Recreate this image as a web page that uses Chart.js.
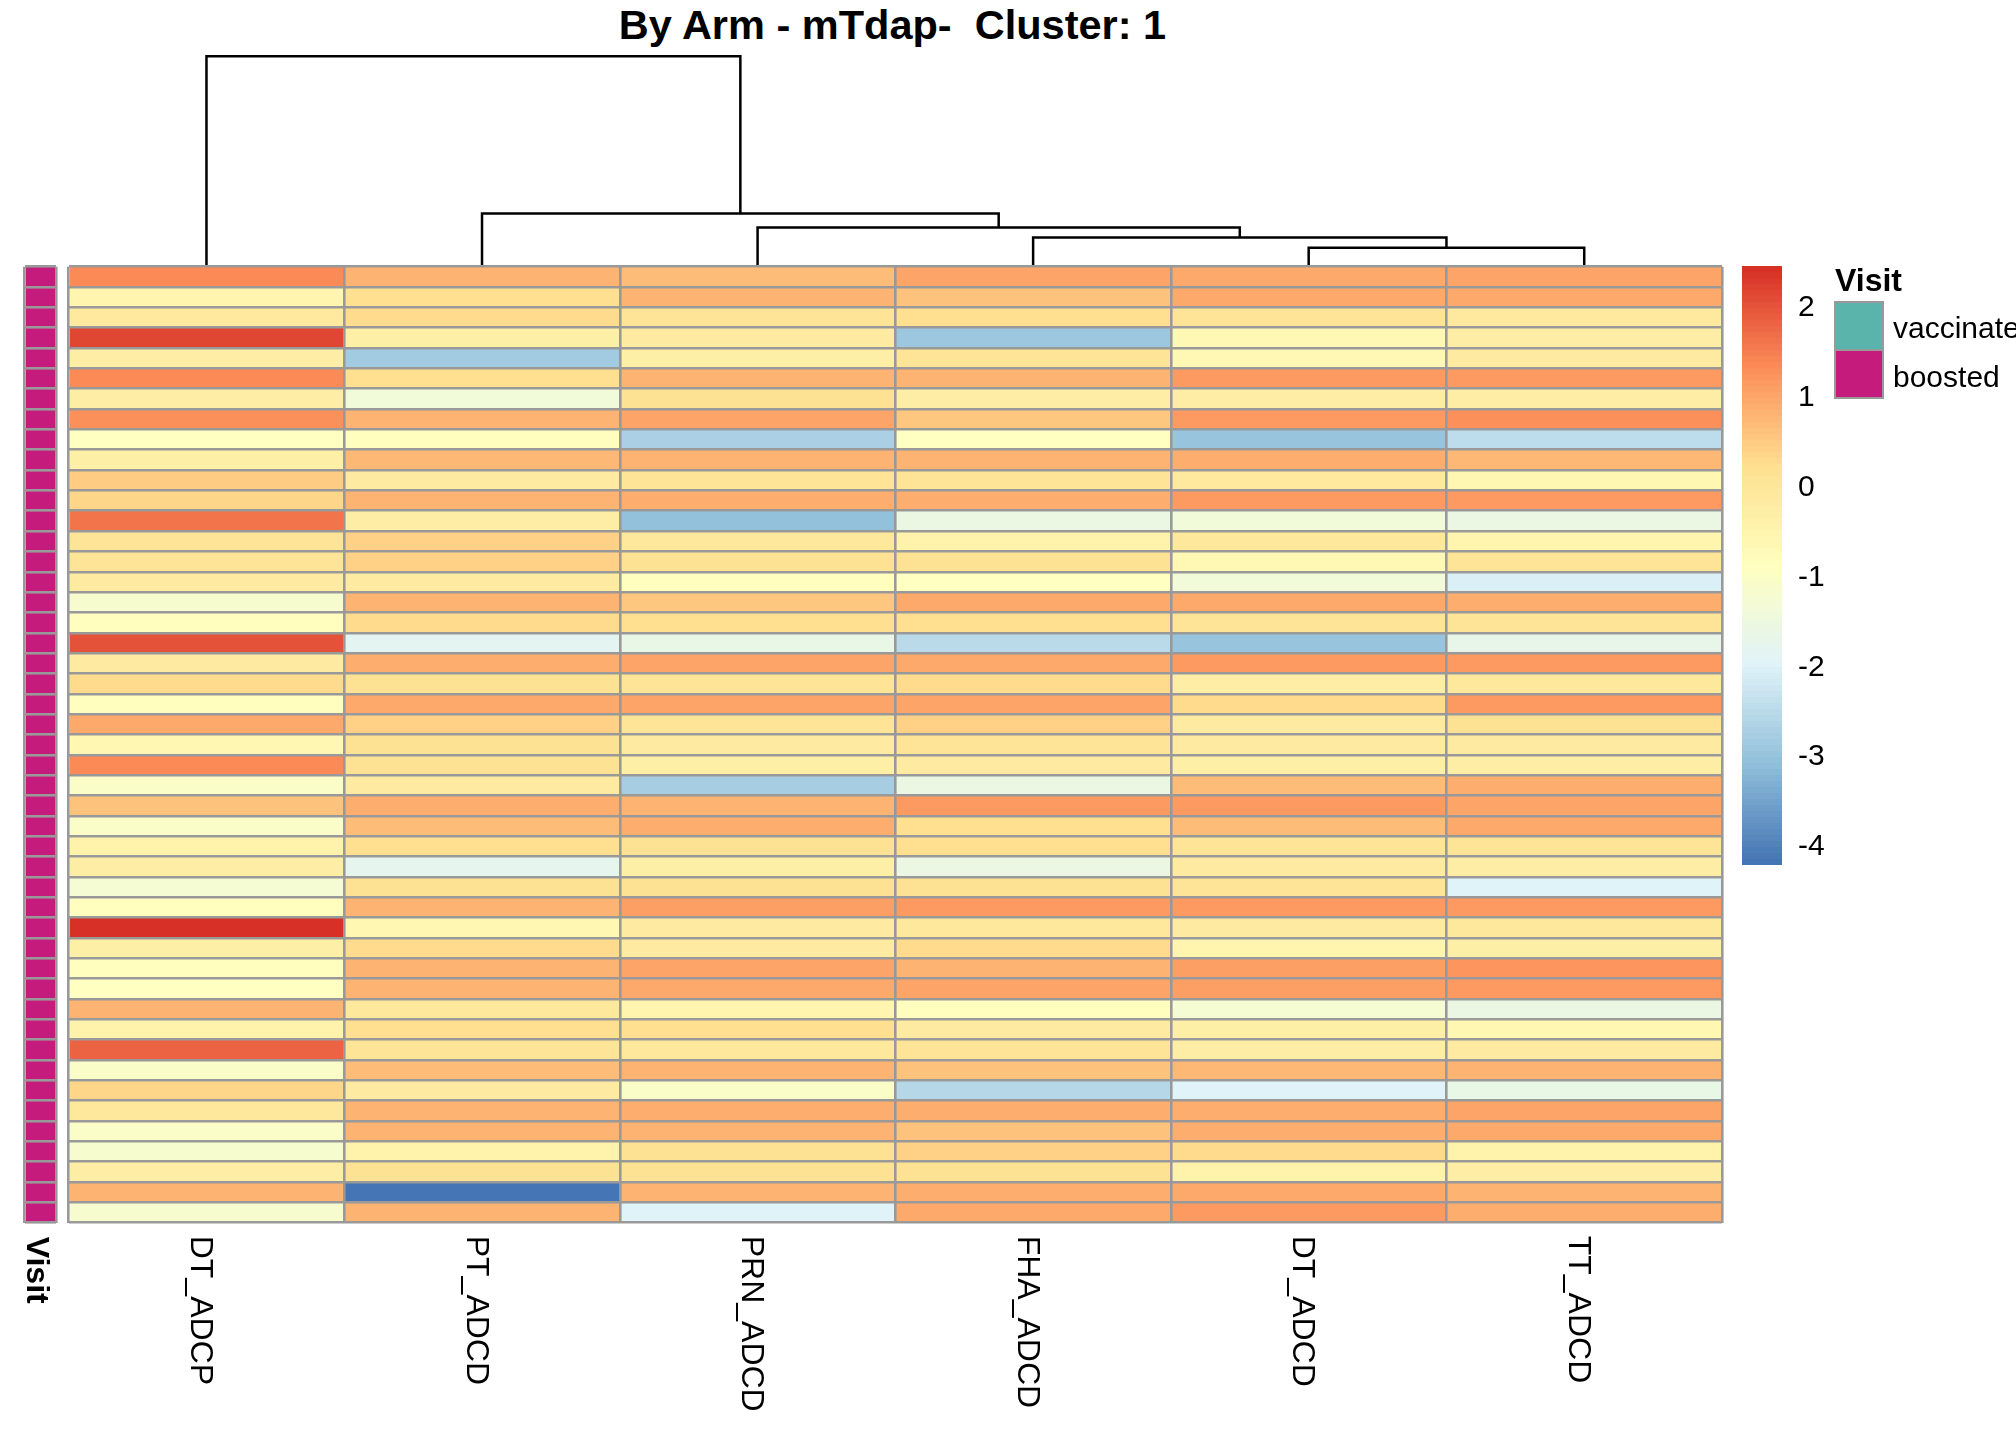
<!DOCTYPE html>
<html>
<head>
<meta charset="utf-8">
<title>By Arm - mTdap- Cluster: 1</title>
<script src="https://cdn.jsdelivr.net/npm/chart.js@4.4.1/dist/chart.umd.min.js"></script>
<style>
  html, body { margin: 0; padding: 0; background: #fff; }
  body { position: relative; width: 2016px; height: 1440px; overflow: hidden;
         font-family: "Liberation Sans", Arial, sans-serif; color: #000; }
  canvas, .abs { position: absolute; }
  #title { left: 0; width: 1785px; top: 4px; text-align: center; font-weight: bold;
           font-size: 41.5px; line-height: 41.5px; white-space: pre; }
  #visitTitle { left: 1835px; top: 264px; font-weight: bold; font-size: 32px; line-height: 32px; }
  .key { left: 1834px; width: 50px; height: 50px; box-sizing: border-box; border: 2.5px solid #999; }
  .keyLabel { left: 1893px; font-size: 30px; line-height: 30px; white-space: nowrap; }
</style>
</head>
<body>
<div id="title" class="abs">By Arm - mTdap-  Cluster: 1</div>

<canvas id="dendro" width="1663" height="267" style="left:64px; top:0px;"></canvas>
<canvas id="annot" width="41" height="1178" style="left:20px; top:262px;"></canvas>
<canvas id="heat" width="1663" height="1178" style="left:64px; top:262px;"></canvas>
<canvas id="scaleBar" width="100" height="640" style="left:1742px; top:250px;"></canvas>

<div id="visitTitle" class="abs">Visit</div>
<div id="key0" class="abs key" style="top:301px;"></div>
<div id="key1" class="abs key" style="top:348.5px;"></div>
<div id="keyLabel0" class="abs keyLabel" style="top:313px;"></div>
<div id="keyLabel1" class="abs keyLabel" style="top:362px;"></div>

<script>
// column order after clustering
const colLabels = ['DT_ADCP', 'PT_ADCD', 'PRN_ADCD', 'FHA_ADCD', 'DT_ADCD', 'TT_ADCD'];

// scaled values per column, one entry per sample (top row first)
const dtAdcp  = [1.35, -0.5, -0.12, 2.16, -0.25, 1.39, -0.25, 1.33, -0.9, -0.3, 0.47, 0.4,
                 1.61, 0.07, 0.07, -0.15, -1.15, -0.8, 2.02, -0.15, 0.33, -0.82, 0.97, -0.57,
                 1.35, -1.05, 0.62, -1.05, -0.4, -0.25, -1.2, -0.85, 2.47, -0.28, -0.85, -0.88,
                 0.84, -0.4, 1.82, -1.05, 0.4, 0.0, -1.05, -1.15, -0.25, 0.84, -1.15];
const ptAdcd  = [0.86, 0.25, 0.33, -0.3, -2.84, 0.25, -1.37, 0.86, -0.8, 0.78, -0.15, 0.84,
                 -0.25, 0.41, 0.41, -0.15, 0.84, 0.3, -1.8, 0.93, 0.17, 0.95, 0.41, 0.17,
                 0.17, -0.15, 0.9, 0.73, 0.25, -1.76, 0.17, 0.84, -0.55, 0.33, 0.86, 0.84,
                 0.0, 0.25, 0.07, 0.73, -0.15, 0.84, 0.84, -0.4, 0.17, -4.2, 0.84];
const prnAdcd = [0.7, 0.82, 0.07, -0.15, -0.28, 0.86, 0.17, 1.05, -2.72, 0.86, 0.07, 0.93,
                 -3.02, 0.0, 0.17, -0.85, 0.57, 0.25, -1.62, 1.05, 0.07, 1.05, 0.07, -0.15,
                 -0.28, -2.77, 0.82, 0.9, 0.17, -0.33, 0.17, 1.1, -0.15, -0.15, 1.05, 0.98,
                 -0.5, 0.25, 0.0, 0.84, -1.0, 0.93, 0.86, 0.17, 0.17, 0.84, -1.98];
const fhaAdcd = [1.05, 0.65, 0.25, -2.91, 0.07, 0.82, -0.25, 0.58, -0.87, 0.86, 0.07, 0.93,
                 -1.59, -0.4, 0.17, -0.9, 0.95, 0.25, -2.5, 0.98, 0.3, 1.05, 0.41, 0.07,
                 -0.15, -1.55, 1.14, 0.25, 0.25, -1.59, 0.17, 1.16, 0.0, 0.3, 0.86, 1.02,
                 -0.85, -0.15, 0.07, 0.65, -2.55, 0.93, 0.62, 0.41, 0.17, 0.93, 0.98];
const dtAdcd  = [0.98, 0.95, 0.07, -0.6, -0.62, 1.14, -0.25, 1.16, -2.99, 0.93, -0.12, 1.18,
                 -1.37, 0.0, -0.62, -1.37, 0.98, 0.07, -2.99, 1.14, -0.25, 0.3, -0.15, -0.15,
                 -0.33, 0.73, 1.15, 0.7, 0.07, -0.15, 0.07, 1.14, -0.15, -0.5, 1.07, 1.1,
                 -1.2, -0.33, -0.25, 0.78, -1.98, 0.93, 0.9, 0.3, -0.4, 0.98, 1.15];
const ttAdcd  = [1.05, 0.95, -0.12, -0.25, -0.15, 1.14, -0.25, 1.33, -2.4, 0.78, -0.55, 1.18,
                 -1.59, -0.47, 0.07, -2.03, 0.9, 0.07, -1.67, 1.16, 0.0, 1.14, 0.17, -0.15,
                 -0.25, 0.9, 1.05, 0.98, 0.07, -0.25, -1.98, 1.14, 0.0, -0.33, 1.23, 1.14,
                 -1.59, -0.55, -0.15, 0.86, -1.62, 1.05, 0.98, -0.4, -0.25, 0.84, 0.93];
const heatColumns = [dtAdcp, ptAdcd, prnAdcd, fhaAdcd, dtAdcd, ttAdcd];

// row annotation
const visitGroups = ['vaccinated', 'boosted'];
const visitColors = ['#5AB4AC', '#C51B7D'];
const rowVisit = dtAdcp.map(() => 'boosted');
const sampleIds = dtAdcp.map((_, i) => 'S' + (i + 1));

// column dendrogram (hclust style: negative = leaf, positive = earlier merge)
const mergeLeft   = [-5, -4, -3, -2, -1];
const mergeRight  = [-6,  1,  2,  3,  4];
const mergeHeight = [0.95, 1.45, 1.95, 2.65, 10.5];
const dendroTop = 13.3;

// colour scale
const paletteAnchors = ['#4575B4', '#91BFDB', '#E0F3F8', '#FFFFBF', '#FEE090', '#FC8D59', '#D73027'];
const colorMin = -4.2;
const colorMax = 2.47;
const legendTicks = [-4, -3, -2, -1, 0, 1, 2];

const GRID = '#999999';
const FONT = '"Liberation Sans", Arial, sans-serif';
Chart.defaults.font.family = FONT;
Chart.defaults.animation = false;

function hexToRgb(h) { return [1, 3, 5].map(i => parseInt(h.slice(i, i + 2), 16)); }

const heatPalette = (() => {
  const stops = paletteAnchors.map(hexToRgb);
  const out = [];
  for (let i = 0; i < 100; i++) {
    const t = i / 99 * (stops.length - 1);
    const k = Math.min(Math.floor(t), stops.length - 2);
    const f = t - k;
    out.push('rgb(' + stops[k].map((c, ch) => Math.round(c + (stops[k + 1][ch] - c) * f)).join(',') + ')');
  }
  return out;
})();

function valueColor(v) {
  const t = (v - colorMin) / (colorMax - colorMin);
  return heatPalette[Math.max(0, Math.min(99, Math.floor(t * 100)))];
}

// rotated labels under the cells (read top to bottom)
function bottomLabels(names, font, shiftX, gapY) {
  return {
    id: 'bottomLabels',
    afterDraw(chart) {
      const { ctx, chartArea, scales: { x } } = chart;
      ctx.save();
      ctx.fillStyle = '#000';
      ctx.font = font;
      ctx.textBaseline = 'alphabetic';
      names.forEach((name, j) => {
        ctx.save();
        ctx.translate(x.getPixelForValue(j + 0.5) + shiftX, chartArea.bottom + gapY);
        ctx.rotate(Math.PI / 2);
        ctx.fillText(name, 0, 0);
        ctx.restore();
      });
      ctx.restore();
    }
  };
}

// grid lines on top of the bars act as the cell borders
function cellScales(nCols) {
  return {
    x: {
      type: 'linear', stacked: true, min: 0, max: nCols,
      ticks: { display: false },
      afterBuildTicks: s => { s.ticks = Array.from({ length: nCols + 1 }, (_, i) => ({ value: i })); },
      grid: { color: GRID, lineWidth: 2.6, drawTicks: false, z: 1 },
      border: { display: false }
    },
    y: {
      stacked: true, offset: true,
      ticks: { display: false },
      grid: { offset: true, color: GRID, lineWidth: 2.6, drawTicks: false, z: 1 },
      border: { display: false }
    }
  };
}

const cellPadding = { left: 4.7, top: 4.7, right: 5, bottom: 217.3 };

// heatmap
new Chart(document.getElementById('heat'), {
  type: 'bar',
  data: {
    labels: sampleIds,
    datasets: colLabels.map((name, j) => ({
      label: name,
      data: sampleIds.map(() => 1),
      backgroundColor: heatColumns[j].map(valueColor),
      borderWidth: 0,
      barPercentage: 1,
      categoryPercentage: 1,
      stack: 'cells'
    }))
  },
  options: {
    indexAxis: 'y',
    responsive: false,
    layout: { padding: cellPadding },
    plugins: { legend: { display: false }, tooltip: { enabled: false } },
    scales: cellScales(colLabels.length)
  },
  plugins: [bottomLabels(colLabels, '32px ' + FONT, -15.5, 13)]
});

// row annotation column
new Chart(document.getElementById('annot'), {
  type: 'bar',
  data: {
    labels: sampleIds,
    datasets: [{
      label: 'Visit',
      data: sampleIds.map(() => 1),
      backgroundColor: rowVisit.map(v => visitColors[visitGroups.indexOf(v)]),
      borderWidth: 0,
      barPercentage: 1,
      categoryPercentage: 1,
      stack: 'cells'
    }]
  },
  options: {
    indexAxis: 'y',
    responsive: false,
    layout: { padding: cellPadding },
    plugins: { legend: { display: false }, tooltip: { enabled: false } },
    scales: cellScales(1)
  },
  plugins: [bottomLabels(['Visit'], 'bold 32px ' + FONT, -13.3, 14)]
});

// dendrogram over the columns
function nodeOf(ref) {
  if (ref < 0) return { x: -ref - 0.5, h: 0 };
  return mergeNodes[ref - 1];
}
const mergeNodes = [];
const dendroSets = mergeHeight.map((h, i) => {
  const a = nodeOf(mergeLeft[i]);
  const b = nodeOf(mergeRight[i]);
  mergeNodes.push({ x: (a.x + b.x) / 2, h });
  return {
    data: [{ x: a.x, y: a.h }, { x: a.x, y: h }, { x: b.x, y: h }, { x: b.x, y: b.h }],
    showLine: true,
    borderColor: '#000',
    borderWidth: 2.5,
    pointRadius: 0,
    tension: 0,
    fill: false,
    clip: false
  };
});

new Chart(document.getElementById('dendro'), {
  type: 'scatter',
  data: { datasets: dendroSets },
  options: {
    responsive: false,
    layout: { padding: { left: 4.7, right: 5, top: 0, bottom: 0.3 } },
    plugins: { legend: { display: false }, tooltip: { enabled: false } },
    scales: {
      x: { type: 'linear', min: 0, max: colLabels.length, display: false },
      y: { type: 'linear', min: 0, max: dendroTop, display: false }
    }
  }
});

// colour key
function barGradient(context) {
  const { chart } = context;
  const { ctx, chartArea, scales } = chart;
  if (!chartArea) return null;
  const y0 = scales.y.getPixelForValue(colorMin);
  const y1 = scales.y.getPixelForValue(colorMax);
  const g = ctx.createLinearGradient(0, y0, 0, y1);
  const n = heatPalette.length;
  heatPalette.forEach((c, i) => {
    g.addColorStop(i / n, c);
    g.addColorStop(Math.min(1, (i + 1) / n), c);
  });
  return g;
}

new Chart(document.getElementById('scaleBar'), {
  type: 'bar',
  data: {
    labels: ['key'],
    datasets: [{
      data: [[colorMin, colorMax]],
      backgroundColor: barGradient,
      borderWidth: 0,
      barPercentage: 1,
      categoryPercentage: 1
    }]
  },
  options: {
    responsive: false,
    layout: { padding: { left: 0, top: 16, right: 0, bottom: 25 } },
    plugins: { legend: { display: false }, tooltip: { enabled: false } },
    scales: {
      x: { display: false },
      y: {
        position: 'right', min: colorMin, max: colorMax,
        grid: { display: false, drawTicks: false },
        border: { display: false },
        ticks: { color: '#000', font: { size: 30 }, padding: 16 },
        afterBuildTicks: s => { s.ticks = legendTicks.map(v => ({ value: v })); },
        afterFit: s => { s.width = 60; s.paddingTop = 0; s.paddingBottom = 0; }
      }
    }
  }
});

// annotation legend
visitGroups.forEach((g, i) => {
  document.getElementById('key' + i).style.background = visitColors[i];
  document.getElementById('keyLabel' + i).textContent = g;
});
</script>
</body>
</html>
